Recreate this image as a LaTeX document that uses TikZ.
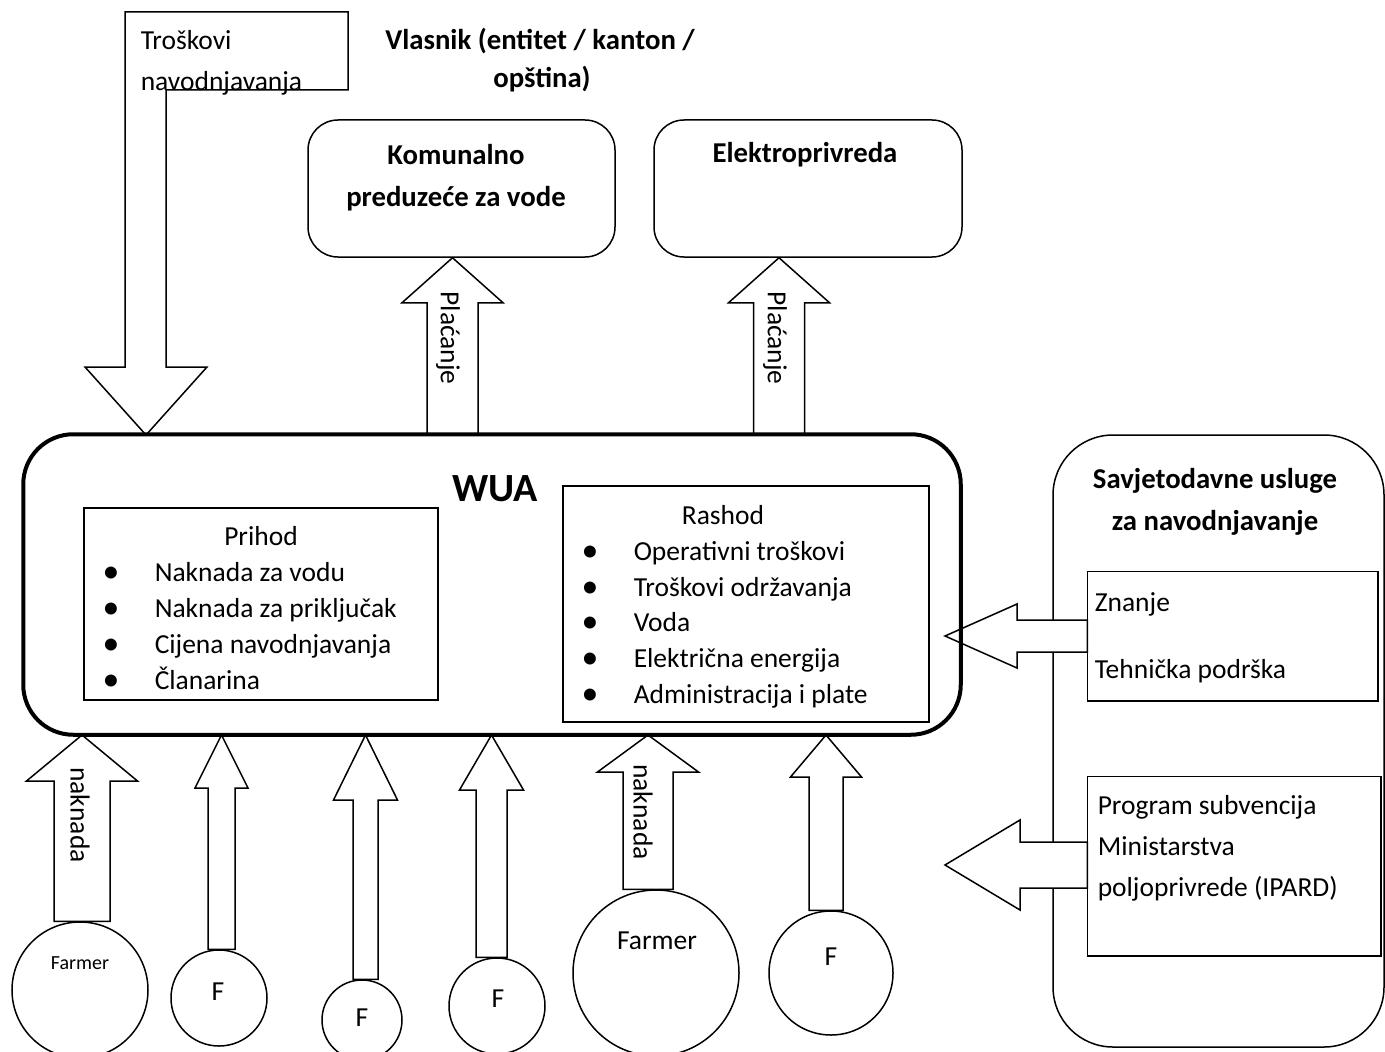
\documentclass[tikz,border=0pt]{standalone}
\usepackage{fontspec}
\setmainfont{Carlito}
\usetikzlibrary{calc,fit}
\newcommand{\blkup}[5]{\filldraw[arr] ($(#1)+(-#3,0)$) -- ($(#2)+(-#3,#5)$) -- ($(#2)+(-#4,#5)$) -- (#2) -- ($(#2)+(#4,#5)$) -- ($(#2)+(#3,#5)$) -- ($(#1)+(#3,0)$) -- cycle;}
\newcommand{\blkleft}[5]{\filldraw[arr] ($(#1)+(0,-#3)$) -- ($(#2)+(#5,-#3)$) -- ($(#2)+(#5,-#4)$) -- (#2) -- ($(#2)+(#5,#4)$) -- ($(#2)+(#5,#3)$) -- ($(#1)+(0,#3)$) -- cycle;}
\begin{document}
\begin{tikzpicture}[x=0.4pt,y=-0.4pt,line join=miter,line width=0.6pt,
  txt/.style={inner sep=0pt,font=\fontsize{11}{13}\selectfont},
  lt/.style={txt,anchor=base west},
  hd/.style={inner sep=0pt,anchor=base,font=\fontsize{11.5}{14}\selectfont\bfseries},
  dot/.style={inner sep=0pt,anchor=base,font=\fontsize{13.5}{15}\selectfont},
  box/.style={draw,inner sep=0pt},
  rbox/.style={draw,inner sep=0pt,rounded corners=#1},
  farm/.style={draw,circle,inner sep=0pt,minimum size=#1*0.8pt},
  arr/.style={fill=white,draw}]
\useasboundingbox (0,0) rectangle (1385,1052);

\node[fit={(24,435) (960,734)},inner sep=0pt] (wua) {};

\filldraw[arr](125,12)--(348,12)--(348,90)--(166,90)--(166,367)--(207,367)--(146,435)--(85,367)--(125,367)--cycle;
\node[lt] (tr1) at (140,50) {Troškovi};
\node[lt] (tr2) at (140,91) {navodnjavanja};

\node[hd] (vl1) at (540,50) {Vlasnik (entitet / kanton /};
\node[hd] (vl2) at (542,88) {opština)};

\node[rbox=12pt,fit={(308,120) (615,257)}] (kom) {};
\node[rbox=12pt,fit={(654,120) (962,257)}] (elek) {};
\node[hd] (kom1) at (456,164) {Komunalno};
\node[hd] (kom2) at (456,206) {preduzeće za vode};
\node[hd] (elek1) at (805,163) {Elektroprivreda};

\coordinate (p1b) at (452.5,435);
\coordinate (p1t) at (kom.south -| p1b);
\coordinate (p2b) at (779,435);
\coordinate (p2t) at (elek.south -| p2b);
\blkup{p1b}{p1t}{25.5}{50.5}{45}
\blkup{p2b}{p2t}{25.5}{50.5}{45}
\node[txt,rotate=-90] (pl1) at (448,338) {Plaćanje};
\node[txt,rotate=-90] (pl2) at (775,338) {Plaćanje};

\node[rbox=24pt,fit={(1053,435) (1384,1047)}] (sav) {};
\node[hd] (sav1) at (1215,488) {Savjetodavne usluge};
\node[hd] (sav2) at (1215,530) {za navodnjavanje};
\coordinate (k1) at (945,636);
\coordinate (k2) at (945,865);
\node[fit={(1088,572) (1377,700)},inner sep=0pt] (zn) {};
\node[fit={(1088,777) (1380,955)},inner sep=0pt] (prog) {};
\blkleft{k1 -| zn.west}{k1}{16}{32}{72}
\blkleft{k2 -| prog.west}{k2}{23}{45}{75}
\draw (zn.north west) rectangle (zn.south east);
\draw (prog.north west) rectangle (prog.south east);
\node[lt] (zn1) at (1094,611) {Znanje};
\node[lt] (zn2) at (1094,678) {Tehnička podrška};
\node[lt] (pg1) at (1097,814) {Program subvencija};
\node[lt] (pg2) at (1097,855) {Ministarstva};
\node[lt] (pg3) at (1097,896) {poljoprivrede (IPARD)};

\node[font=\fontsize{16}{19}\selectfont\bfseries,inner sep=0pt] (wuat) at (495,489) {WUA};

\node[box,fit={(84,508) (438,700)}] (prih) {};
\node[txt,anchor=base] (prih0) at (261,545) {Prihod};
\node[dot] at (111,582) {\textbullet};
\node[dot] at (111,618) {\textbullet};
\node[dot] at (111,654) {\textbullet};
\node[dot] at (111,690) {\textbullet};
\node[lt] (prih1) at (154,581) {Naknada za vodu};
\node[lt] (prih2) at (154,617) {Naknada za priključak};
\node[lt] (prih3) at (154,653) {Cijena navodnjavanja};
\node[lt] (prih4) at (154,689) {Članarina};

\node[box,fit={(563,486) (929,722)}] (rash) {};
\node[txt,anchor=base] (rash0) at (723,524) {Rashod};
\node[dot] at (590,561) {\textbullet};
\node[dot] at (590,597) {\textbullet};
\node[dot] at (590,632) {\textbullet};
\node[dot] at (590,668) {\textbullet};
\node[dot] at (590,704) {\textbullet};
\node[lt] (rash1) at (633,560) {Operativni troškovi};
\node[lt] (rash2) at (633,596) {Troškovi održavanja};
\node[lt] (rash3) at (633,631) {Voda};
\node[lt] (rash4) at (633,667) {Električna energija};
\node[lt] (rash5) at (633,703) {Administracija i plate};

\node[farm=68] (f1) at (80,990) {};
\node[farm=48] (f2) at (219,998) {};
\node[farm=40] (f3) at (362,1020) {};
\node[farm=48] (f4) at (497,1006) {};
\node[farm=83] (f5) at (656,973) {};
\node[farm=62] (f6) at (831,973) {};
\node[inner sep=0pt,font=\fontsize{8}{10}\selectfont] (f1t) at (80,963) {Farmer};
\node[txt] (f2t) at (218,992) {F};
\node[txt] (f3t) at (362,1018) {F};
\node[txt] (f4t) at (498,999) {F};
\node[txt] (f5t) at (657,941) {Farmer};
\node[txt] (f6t) at (831,957) {F};

\coordinate (t1) at (82,735);
\coordinate (t2) at (221.5,735);
\coordinate (t3) at (365.5,735);
\coordinate (t4) at (491.5,735);
\coordinate (t5) at (648,735);
\coordinate (t6) at (826,735);
\blkup{t1 |- f1.north}{t1}{28}{55.5}{46}
\blkup{t2 |- f2.north}{t2}{13.5}{26.5}{53}
\blkup{t3 |- f3.north}{t3}{12.5}{32}{65}
\blkup{t4 |- f4.north}{t4}{15.5}{32}{55}
\blkup{t5 |- f5.north}{t5}{25}{50.5}{37}
\blkup{t6 |- f6.north}{t6}{17}{35.5}{42}
\node[txt,rotate=-90] (nk1) at (80,815) {naknada};
\node[txt,rotate=-90] (nk2) at (643,812) {naknada};

\draw[line width=1.6pt,rounded corners=20pt] (wua.north west) rectangle (wua.south east);
\end{tikzpicture}
\end{document}
